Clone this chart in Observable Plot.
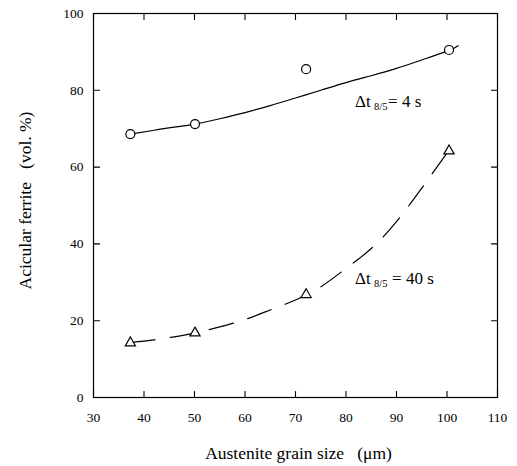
<!DOCTYPE html>
<html>
<head>
<meta charset="utf-8">
<script src="https://cdn.jsdelivr.net/npm/d3@7"></script>
<script src="https://cdn.jsdelivr.net/npm/@observablehq/plot@0.6"></script>
<style>
  html, body { margin: 0; padding: 0; background: #fff; }
</style>
</head>
<body>
<div id="chart"></div>
<script>
// Measured points
const grain4 = [37.3, 50.1, 72.1, 100.4];
const ferrite4 = [68.6, 71.2, 85.5, 90.5];
const grain40 = [37.3, 50.1, 72.1, 100.4];
const ferrite40 = [14.2, 16.8, 26.8, 64.2];

// Fitted curves
const fit4X = [37.3, 42, 46, 50.1, 55, 60, 65, 70, 75, 80, 85, 90, 95, 100.4, 102.2];
const fit4Y = [68.6, 69.6, 70.4, 71.2, 72.6, 74.2, 76.0, 78.0, 80.0, 82.0, 83.8, 85.7, 87.9, 90.4, 91.6];
const fit40X = [37.3, 42, 46, 50.1, 55, 60, 65, 70, 72.1, 75, 80, 85, 90, 95, 100.4];
const fit40Y = [14.3, 15.0, 15.8, 16.8, 18.4, 20.3, 22.8, 25.4, 26.8, 28.8, 33.6, 38.8, 45.8, 54.5, 64.4];

// Axis ticks
const xTicks = [30, 40, 50, 60, 70, 80, 90, 100, 110];
const yTicks = [0, 20, 40, 60, 80, 100];

// Labels
const xTitle = "Austenite grain size\u00a0\u00a0\u00a0(\u03bcm)";
const yTitle = "Acicular ferrite\u00a0\u00a0\u00a0(vol. %)";
const label4 = [{x: 81.8, y: 77.1, rest: "= 4 s"}];
const label40 = [{x: 81.8, y: 31.0, rest: "= 40 s"}];

const pts4 = grain4.map((g, i) => ({g, f: ferrite4[i]}));
const pts40 = grain40.map((g, i) => ({g, f: ferrite40[i]}));
const fit4 = fit4X.map((g, i) => ({g, f: fit4Y[i]}));
const fit40 = fit40X.map((g, i) => ({g, f: fit40Y[i]}));

const tickShape = {draw(context, l) { context.moveTo(0, 0); context.lineTo(0, -l); }};
const TL = 6;
const FF = "'Liberation Serif', 'Times New Roman', Times, 'DejaVu Serif', serif";

function curveLabel(data, restDx) {
  return [
    Plot.text(data, {x: "x", y: "y", text: () => "\u0394t", textAnchor: "start", lineAnchor: "middle", fontSize: 17, fontFamily: FF}),
    Plot.text(data, {x: "x", y: "y", text: () => "8/5", textAnchor: "start", lineAnchor: "middle", fontSize: 10.5, fontFamily: FF, dx: 19, dy: 5}),
    Plot.text(data, {x: "x", y: "y", text: "rest", textAnchor: "start", lineAnchor: "middle", fontSize: 17, fontFamily: FF, dx: restDx})
  ];
}

const chart = Plot.plot({
  width: 517,
  height: 466,
  marginLeft: 93,
  marginRight: 20,
  marginTop: 13,
  marginBottom: 69,
  style: {fontFamily: FF, background: "white", color: "black"},
  x: {domain: [30, 110]},
  y: {domain: [0, 100]},
  marks: [
    Plot.frame({stroke: "black", strokeWidth: 1.2}),
    Plot.axisX(xTicks, {tickSize: 0, tickPadding: 15, fontSize: 13.5, fontFamily: FF, label: null}),
    Plot.axisY(yTicks, {tickSize: 0, tickPadding: 10, fontSize: 13.5, fontFamily: FF, label: null}),
    // inward ticks
    Plot.vectorX(xTicks, {x: d => d, frameAnchor: "bottom", length: TL, rotate: 0, anchor: "start", shape: tickShape, stroke: "black", strokeWidth: 1.1}),
    Plot.vectorX(xTicks, {x: d => d, frameAnchor: "top", length: TL, rotate: 180, anchor: "start", shape: tickShape, stroke: "black", strokeWidth: 1.1}),
    Plot.vectorY(yTicks, {y: d => d, frameAnchor: "left", length: TL, rotate: 90, anchor: "start", shape: tickShape, stroke: "black", strokeWidth: 1.1}),
    Plot.vectorY(yTicks, {y: d => d, frameAnchor: "right", length: TL, rotate: -90, anchor: "start", shape: tickShape, stroke: "black", strokeWidth: 1.1}),
    // fits
    Plot.line(fit4, {x: "g", y: "f", curve: "natural", stroke: "black", strokeWidth: 1.2}),
    Plot.line(fit40, {x: "g", y: "f", curve: "natural", stroke: "black", strokeWidth: 1.2, strokeDasharray: "25,15"}),
    // data
    Plot.dot(pts4, {x: "g", y: "f", r: 4.5, symbol: "circle", fill: "white", stroke: "black", strokeWidth: 1.2}),
    Plot.dot(pts40, {x: "g", y: "f", r: 3.8, symbol: "triangle", fill: "white", stroke: "black", strokeWidth: 1.2}),
    // curve labels
    ...curveLabel(label4, 33),
    ...curveLabel(label40, 37),
    // axis titles
    Plot.text([xTitle], {frameAnchor: "bottom", text: d => d, textAnchor: "middle", lineAnchor: "middle", dy: 56, dx: 3, fontSize: 17.5, fontFamily: FF}),
    Plot.text([yTitle], {frameAnchor: "left", text: d => d, rotate: -90, textAnchor: "middle", lineAnchor: "middle", dx: -68, dy: -5, fontSize: 17.5, fontFamily: FF})
  ]
});
document.getElementById("chart").appendChild(chart);
</script>
</body>
</html>
